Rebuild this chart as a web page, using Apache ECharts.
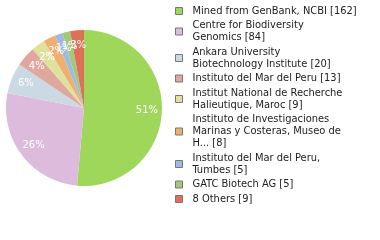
<!DOCTYPE html>
<html>
<head>
<meta charset="utf-8">
<script src="https://cdn.jsdelivr.net/npm/echarts@6/dist/echarts.min.js"></script>
<style>
  html, body { margin: 0; padding: 0; background: #fff; }
  #main { width: 380px; height: 240px; }
</style>
</head>
<body>
<div id="main"></div>
<script>
// legend names (already wrapped like the original) and counts
var names = [
  'Mined from GenBank, NCBI [162]',
  'Centre for Biodiversity\nGenomics [84]',
  'Ankara University\nBiotechnology Institute [20]',
  'Instituto del Mar del Peru [13]',
  'Institut National de Recherche\nHalieutique, Maroc [9]',
  'Instituto de Investigaciones\nMarinas y Costeras, Museo de\nH... [8]',
  'Instituto del Mar del Peru,\nTumbes [5]',
  'GATC Biotech AG [5]',
  '8 Others [9]'
];
var counts = [162, 84, 20, 13, 9, 8, 5, 5, 9];
// percent labels as printed on the slices
var percents = [51, 26, 6, 4, 2, 2, 1, 1, 3];
var colors = ['#9ed75a', '#ddbbdd', '#cbd9e3', '#e0a79f', '#dee29d',
              '#f0ae71', '#9cbbe2', '#a2c97a', '#de705a'];

var chart = echarts.init(document.getElementById('main'));

var pieData = names.map(function (n, i) {
  return { name: n, value: counts[i], itemStyle: { color: colors[i] } };
});

var option = {
  animation: false,
  legend: {
    orient: 'vertical',
    left: 175,
    top: 5,
    padding: 0,
    itemWidth: 7,
    itemHeight: 7,
    itemGap: 2.5,
    icon: 'rect',
    selectedMode: false,
    itemStyle: { borderColor: '#777', borderWidth: 1 },
    textStyle: {
      fontFamily: 'DejaVu Sans Condensed',
      fontSize: 11,
      lineHeight: 12,
      color: '#222',
      padding: [0, 0, 0, 5]
    },
    data: names
  },
  series: [
    {
      // the coloured slices
      type: 'pie',
      radius: [0, 78],
      center: [84, 108],
      startAngle: 90,
      silent: true,
      label: { show: false },
      labelLine: { show: false },
      data: pieData
    },
    {
      // transparent ring used only to place the percent labels further out
      type: 'pie',
      radius: [42, 78],
      center: [84, 108],
      startAngle: 90,
      silent: true,
      avoidLabelOverlap: false,
      legendHoverLink: false,
      itemStyle: { color: 'rgba(0,0,0,0)' },
      label: {
        show: true,
        position: 'inside',
        color: '#fff',
        fontFamily: 'DejaVu Sans',
        fontSize: 10,
        formatter: function (p) { return percents[p.dataIndex] + '%'; }
      },
      labelLayout: { hideOverlap: false },
      labelLine: { show: false },
      data: names.map(function (n, i) { return { name: n + ' ', value: counts[i] }; })
    }
  ]
};

chart.setOption(option);
</script>
</body>
</html>
